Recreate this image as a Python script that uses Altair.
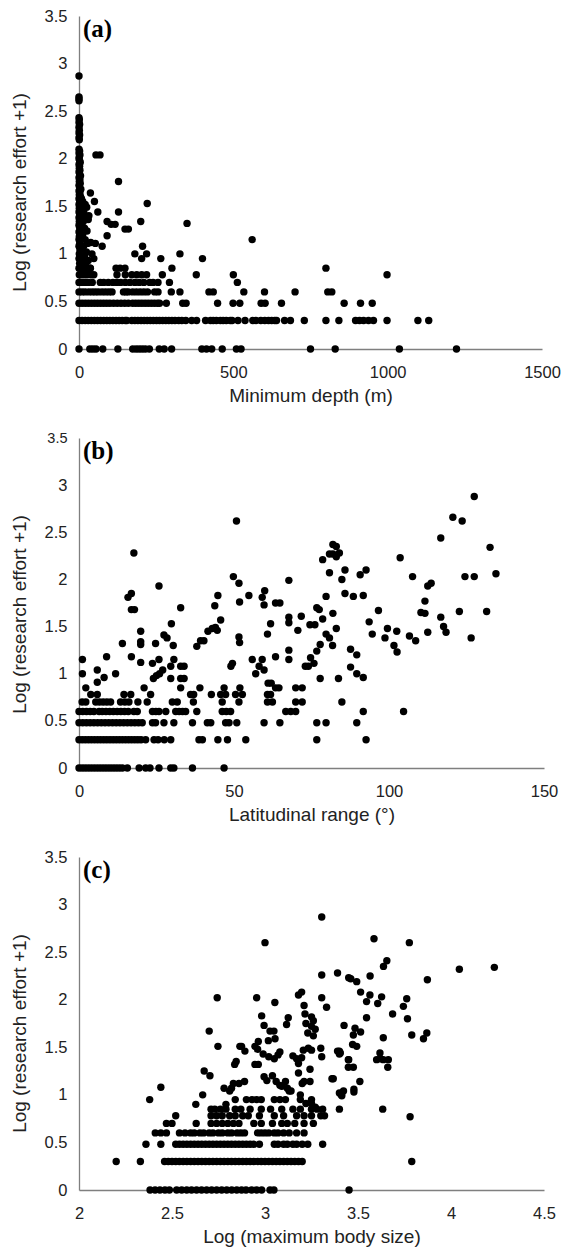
import altair as alt
import pandas as pd

Y_TITLE = "Log (research effort +1)"
Y_TICKS = [0, 0.5, 1, 1.5, 2, 2.5, 3, 3.5]

# ---------------- Panel (a): minimum depth (m) vs log research effort ----------------
a_x_ticks = [0, 500, 1000, 1500]
a_points = [
    # near-zero depth column
    (0, 2.87), (0, 2.65), (0, 2.63), (0, 2.61), (0, 2.43), (1, 2.41), (0, 2.38), (2, 2.36), (0, 2.33),
    (1, 2.30), (0, 2.27), (2, 2.25), (0, 2.22), (1, 2.20), (0, 2.10), (2, 2.08), (0, 2.06), (3, 2.04),
    (1, 2.02), (0, 2.00), (2, 1.98), (4, 1.96), (0, 1.94), (2, 1.92), (1, 1.90), (3, 1.88), (0, 1.86),
    (2, 1.84), (5, 1.82), (0, 1.80), (3, 1.78), (1, 1.76), (4, 1.74), (0, 1.72), (2, 1.70), (6, 1.68),
    (0, 1.66), (3, 1.64), (1, 1.62), (5, 1.60), (0, 1.58), (2, 1.56), (4, 1.54), (0, 1.52), (3, 1.50),
    (1, 1.48), (6, 1.46), (0, 1.44), (2, 1.42), (4, 1.40), (0, 1.38), (3, 1.36), (1, 1.34), (5, 1.32),
    (0, 1.30), (2, 1.28), (4, 1.26), (0, 1.23), (3, 1.20), (1, 1.18), (0, 1.15), (2, 1.11), (0, 1.08),
    (3, 1.04), (1, 1.00), (0, 0.95), (2, 0.90), (0, 0.85), (1, 0.78), (0, 0.70),
    (8, 1.58), (12, 1.55), (20, 1.52), (25, 1.49), (10, 1.46), (16, 1.43), (6, 1.40), (22, 1.38),
    (30, 1.36), (14, 1.34), (9, 1.30), (18, 1.27), (26, 1.24), (12, 1.20), (7, 1.17), (20, 1.15),
    (28, 1.11), (15, 1.08), (10, 1.05), (24, 1.02), (18, 0.98), (8, 0.95), (30, 0.93), (14, 0.90),
    (22, 0.88), (36, 0.85), (12, 0.82), (26, 0.80),
    # scattered
    (55, 2.04), (68, 2.04), (128, 1.76), (37, 1.64), (50, 1.55), (221, 1.53), (61, 1.44), (32, 1.40),
    (128, 1.44), (91, 1.34), (104, 1.31), (117, 1.31), (200, 1.34), (350, 1.32), (149, 1.26),
    (160, 1.26), (91, 1.19), (38, 1.12), (53, 1.11), (75, 1.08), (206, 1.08), (181, 1.00), (219, 1.00),
    (203, 0.95), (265, 0.95), (327, 1.00), (400, 0.95), (561, 1.15), (48, 0.95), (42, 1.00),
    # 0.845
    (5, 0.85), (15, 0.85), (25, 0.85), (37, 0.85), (120, 0.85), (133, 0.85), (149, 0.85), (301, 0.85),
    (800, 0.85),
    # 0.778
    (5, 0.78), (15, 0.78), (25, 0.78), (38, 0.78), (48, 0.78), (123, 0.78), (150, 0.78), (171, 0.78),
    (187, 0.78), (203, 0.78), (219, 0.78), (270, 0.78), (380, 0.78), (500, 0.78), (998, 0.78),
    # 0.699
    (10, 0.70), (20, 0.70), (30, 0.70), (43, 0.70), (69, 0.70), (80, 0.70), (95, 0.70), (110, 0.70),
    (123, 0.70), (135, 0.70), (150, 0.70), (165, 0.70), (181, 0.70), (195, 0.70), (210, 0.70),
    (229, 0.70), (240, 0.70), (256, 0.70), (293, 0.70), (513, 0.70),
    # 0.602
    (0, 0.60), (10, 0.60), (20, 0.60), (32, 0.60), (43, 0.60), (53, 0.60), (63, 0.60), (75, 0.60),
    (86, 0.60), (97, 0.60), (107, 0.60), (144, 0.60), (152, 0.60), (160, 0.60), (174, 0.60),
    (186, 0.60), (198, 0.60), (210, 0.60), (222, 0.60), (245, 0.60), (256, 0.60), (299, 0.60),
    (327, 0.60), (421, 0.60), (435, 0.60), (534, 0.60), (601, 0.60), (700, 0.60), (806, 0.60),
    (819, 0.60),
    # 0.477
    (0, 0.48), (10, 0.48), (20, 0.48), (30, 0.48), (40, 0.48), (50, 0.48), (60, 0.48), (70, 0.48),
    (80, 0.48), (90, 0.48), (100, 0.48), (112, 0.48), (124, 0.48), (136, 0.48), (148, 0.48),
    (160, 0.48), (174, 0.48), (184, 0.48), (194, 0.48), (204, 0.48), (214, 0.48), (224, 0.48),
    (234, 0.48), (244, 0.48), (254, 0.48), (261, 0.48), (283, 0.48), (336, 0.48), (347, 0.48),
    (449, 0.48), (499, 0.48), (521, 0.48), (590, 0.48), (603, 0.48), (656, 0.48), (859, 0.48),
    (912, 0.48), (950, 0.48),
    # 0.301
    (0, 0.30), (10, 0.30), (20, 0.30), (30, 0.30), (40, 0.30), (50, 0.30), (60, 0.30), (70, 0.30),
    (80, 0.30), (90, 0.30), (100, 0.30), (110, 0.30), (120, 0.30), (130, 0.30), (140, 0.30),
    (150, 0.30), (155, 0.30), (171, 0.30), (181, 0.30), (191, 0.30), (201, 0.30), (211, 0.30),
    (221, 0.30), (231, 0.30), (241, 0.30), (251, 0.30), (261, 0.30), (271, 0.30), (281, 0.30),
    (291, 0.30), (301, 0.30), (311, 0.30), (323, 0.30), (333, 0.30), (346, 0.30), (365, 0.30),
    (381, 0.30), (410, 0.30), (426, 0.30), (435, 0.30), (445, 0.30), (458, 0.30), (467, 0.30),
    (477, 0.30), (490, 0.30), (496, 0.30), (515, 0.30), (538, 0.30), (563, 0.30), (573, 0.30),
    (589, 0.30), (602, 0.30), (614, 0.30), (624, 0.30), (634, 0.30), (640, 0.30), (666, 0.30),
    (685, 0.30), (730, 0.30), (800, 0.30), (842, 0.30), (896, 0.30), (909, 0.30), (922, 0.30),
    (938, 0.30), (954, 0.30), (998, 0.30), (1098, 0.30), (1133, 0.30),
    # 0
    (0, 0), (35, 0), (45, 0), (55, 0), (77, 0), (126, 0), (174, 0), (185, 0), (195, 0), (205, 0),
    (215, 0), (228, 0), (260, 0), (276, 0), (300, 0), (398, 0), (413, 0), (430, 0), (464, 0),
    (510, 0), (525, 0), (750, 0), (830, 0), (1038, 0), (1223, 0),
]

# ---------------- Panel (b): latitudinal range (deg) ----------------
b_x_ticks = [0, 50, 100, 150]
b_points = [
    # 0
    (0, 0), (1, 0), (2, 0), (3, 0), (4, 0), (5, 0), (6, 0), (7, 0), (8, 0), (9, 0), (10, 0), (11, 0),
    (12, 0), (13, 0), (14, 0), (15.6, 0), (19.4, 0), (21.5, 0), (22.9, 0), (25.8, 0), (29.6, 0),
    (30.6, 0), (36.6, 0), (46.8, 0),
    # 0.301
    (0, 0.30), (1, 0.30), (2, 0.30), (3, 0.30), (4, 0.30), (5, 0.30), (6, 0.30), (7, 0.30), (8, 0.30),
    (9, 0.30), (10, 0.30), (11, 0.30), (12, 0.30), (13, 0.30), (14, 0.30), (15, 0.30), (16, 0.30),
    (17, 0.30), (18, 0.30), (19, 0.30), (20, 0.30), (21.5, 0.30), (24.2, 0.30), (25.5, 0.30),
    (27.5, 0.30), (29.6, 0.30), (38.7, 0.30), (39.8, 0.30), (44.8, 0.30), (47.9, 0.30), (53.8, 0.30),
    (76.7, 0.30), (92.6, 0.30),
    # 0.477
    (0, 0.48), (1.2, 0.48), (2.4, 0.48), (3.6, 0.48), (4.8, 0.48), (6, 0.48), (7.2, 0.48), (8.4, 0.48),
    (9.6, 0.48), (10.8, 0.48), (12, 0.48), (13.2, 0.48), (14.4, 0.48), (15.6, 0.48), (16.8, 0.48),
    (18, 0.48), (19.2, 0.48), (20.4, 0.48), (23.7, 0.48), (24.7, 0.48), (27.4, 0.48), (30.6, 0.48),
    (36.6, 0.48), (41.4, 0.48), (42.5, 0.48), (47.3, 0.48), (48.4, 0.48), (50.9, 0.48), (59.7, 0.48),
    (64.8, 0.48), (76.7, 0.48), (79.7, 0.48), (89.6, 0.48),
    # 0.602
    (0, 0.60), (1.2, 0.60), (2.4, 0.60), (3.6, 0.60), (4.8, 0.60), (6.5, 0.60), (7.5, 0.60),
    (8.7, 0.60), (9.9, 0.60), (11.1, 0.60), (12.3, 0.60), (13.5, 0.60), (14.7, 0.60), (15.9, 0.60),
    (17.7, 0.60), (18.8, 0.60), (23.7, 0.60), (24.8, 0.60), (25.8, 0.60), (28, 0.60), (31.2, 0.60),
    (32.3, 0.60), (33.4, 0.60), (34.4, 0.60), (38, 0.60), (46.2, 0.60), (47.5, 0.60), (48.9, 0.60),
    (66.7, 0.60), (68.3, 0.60), (69.9, 0.60), (91.7, 0.60), (104.7, 0.60),
    # 0.699
    (1, 0.70), (2.2, 0.70), (5.4, 0.70), (6.6, 0.70), (7.8, 0.70), (9, 0.70), (10.2, 0.70),
    (13.4, 0.70), (14.8, 0.70), (16.1, 0.70), (19, 0.70), (22, 0.70), (30.1, 0.70), (31.7, 0.70),
    (36.9, 0.70), (46.2, 0.70), (51.6, 0.70), (60.8, 0.70), (62.4, 0.70), (69.9, 0.70), (72, 0.70),
    (84.8, 0.70),
    # 0.778
    (3.8, 0.78), (5.9, 0.78), (14.5, 0.78), (16.7, 0.78), (23.1, 0.78), (36, 0.78), (37, 0.78),
    (42.7, 0.78), (45.7, 0.78), (47.3, 0.78), (50.5, 0.78), (52.7, 0.78), (60.8, 0.78), (61.8, 0.78),
    # 0.845
    (2.2, 0.85), (21, 0.85), (32.8, 0.85), (39, 0.85), (46.8, 0.85), (51.9, 0.85), (63.4, 0.85),
    (64.5, 0.85), (69.9, 0.85), (72, 0.85),
    # scattered
    (1.1, 1.15), (1.1, 1.00), (5.9, 1.04), (5.9, 0.91), (8.1, 0.96), (8.9, 1.18), (11.8, 1.00),
    (14, 1.32), (15.8, 1.81), (16.9, 1.85), (16.9, 1.68), (17.9, 1.68), (16.9, 1.18), (17.7, 2.28),
    (19.9, 1.45), (19.9, 1.31), (19.9, 1.34), (19.9, 1.12), (23.7, 1.11), (24.7, 1.32), (25.8, 1.93),
    (25.8, 1.15), (24, 0.95), (25, 0.98), (26, 1.00), (27, 1.04), (27.4, 1.41), (28.4, 1.38),
    (29.8, 1.53), (29.6, 1.08), (29.6, 0.95), (30.6, 1.15), (30.4, 1.30), (32.8, 1.70), (32.8, 1.08),
    (33.9, 1.08), (32.8, 0.95), (33.9, 0.95), (38, 1.29), (39.2, 1.35), (40.3, 1.35), (41.6, 1.45),
    (43, 1.48), (43.8, 1.72), (44.8, 1.83), (44, 1.49), (44.6, 1.46), (45.7, 1.57), (49, 1.08),
    (49.5, 1.11), (49.8, 2.03), (50.8, 2.62), (51.6, 1.96), (51.8, 1.76), (51.6, 1.39), (51.8, 1.33),
    (54.8, 1.83), (55.9, 1.15), (57, 1.00), (58.1, 1.08), (59.1, 1.15), (59.1, 1.81), (59.9, 1.88),
    (59.7, 1.73), (59.7, 1.04), (60.8, 1.42), (61.8, 1.53), (61, 0.90), (62, 0.90), (63.4, 1.18),
    (63.4, 1.75), (64.8, 1.75), (67.7, 1.99), (67.7, 1.60), (67.7, 1.54), (67.7, 1.25), (67.7, 1.15),
    (70.6, 1.46), (71.7, 1.61), (73, 1.08), (74, 1.08), (74.7, 1.17), (75.8, 1.11), (74.5, 1.52),
    (76.1, 1.52), (76.7, 1.70), (77.5, 1.68), (76.7, 1.24), (77.8, 1.31), (77.8, 0.95), (78.6, 1.58),
    (78.6, 2.21), (79.7, 1.82), (79.7, 1.42), (80.8, 1.38), (80.8, 2.07), (80.8, 2.27), (81.9, 2.37),
    (83, 2.35), (81.9, 2.27), (83, 2.24), (84, 2.28), (81.9, 1.64), (81.8, 1.30), (83, 1.48),
    (83.7, 0.95), (84.8, 2.00), (85.8, 2.10), (85.8, 1.85), (88.5, 1.82), (91.7, 1.83), (87.6, 1.26),
    (89.6, 1.20), (87.6, 1.07), (89.6, 1.00), (91.7, 0.96), (90.7, 2.05), (92.6, 2.10), (93.6, 1.55),
    (94.6, 1.42), (96.6, 1.67), (98.7, 1.38), (99.5, 1.48), (101.6, 1.30), (102.6, 1.23),
    (102.5, 1.45), (103.6, 2.23), (106.6, 1.40), (108.6, 1.35), (107.6, 2.03), (110.3, 1.65),
    (111.6, 1.64), (111.6, 1.77), (112.5, 1.93), (113.6, 1.96), (112.5, 1.44), (116.7, 1.60),
    (117.6, 1.50), (118.4, 1.44), (116.7, 2.44), (120.6, 2.66), (122.7, 1.66), (123.6, 2.62),
    (124.5, 2.03), (127.5, 2.03), (126.5, 1.38), (127.5, 2.88), (131.5, 1.66), (132.6, 2.34),
    (134.5, 2.06),
]

# ---------------- Panel (c): log maximum body size ----------------
c_x_ticks = [2, 2.5, 3, 3.5, 4, 4.5]
c_points = [
    # 0
    (2.382, 0), (2.409, 0), (2.435, 0), (2.462, 0), (2.486, 0), (2.525, 0), (2.552, 0), (2.579, 0),
    (2.605, 0), (2.632, 0), (2.659, 0), (2.686, 0), (2.713, 0), (2.740, 0), (2.767, 0), (2.794, 0),
    (2.821, 0), (2.848, 0), (2.874, 0), (2.898, 0), (2.928, 0), (2.955, 0), (2.982, 0), (3.027, 0),
    (3.048, 0), (3.452, 0),
    # 0.301
    (2.20, 0.30), (2.33, 0.30), (2.46, 0.30), (2.48, 0.30), (2.50, 0.30), (2.52, 0.30), (2.54, 0.30),
    (2.56, 0.30), (2.58, 0.30), (2.60, 0.30), (2.62, 0.30), (2.64, 0.30), (2.66, 0.30), (2.68, 0.30),
    (2.70, 0.30), (2.72, 0.30), (2.74, 0.30), (2.76, 0.30), (2.78, 0.30), (2.80, 0.30), (2.82, 0.30),
    (2.84, 0.30), (2.86, 0.30), (2.88, 0.30), (2.90, 0.30), (2.92, 0.30), (2.94, 0.30), (2.96, 0.30),
    (2.98, 0.30), (3.00, 0.30), (3.02, 0.30), (3.04, 0.30), (3.06, 0.30), (3.08, 0.30), (3.10, 0.30),
    (3.12, 0.30), (3.14, 0.30), (3.16, 0.30), (3.18, 0.30), (3.20, 0.30), (3.789, 0.30),
    # 0.477
    (2.36, 0.48), (2.44, 0.48), (2.52, 0.48), (2.54, 0.48), (2.56, 0.48), (2.58, 0.48), (2.60, 0.48),
    (2.62, 0.48), (2.64, 0.48), (2.66, 0.48), (2.68, 0.48), (2.70, 0.48), (2.72, 0.48), (2.74, 0.48),
    (2.76, 0.48), (2.78, 0.48), (2.80, 0.48), (2.82, 0.48), (2.84, 0.48), (2.86, 0.48), (2.88, 0.48),
    (2.90, 0.48), (2.92, 0.48), (2.94, 0.48), (2.97, 0.48), (3.05, 0.48), (3.07, 0.48), (3.10, 0.48),
    (3.12, 0.48), (3.15, 0.48), (3.17, 0.48), (3.20, 0.48), (3.23, 0.48), (3.31, 0.48),
    # 0.602
    (2.41, 0.60), (2.44, 0.60), (2.47, 0.60), (2.54, 0.60), (2.57, 0.60), (2.60, 0.60), (2.62, 0.60),
    (2.65, 0.60), (2.67, 0.60), (2.70, 0.60), (2.72, 0.60), (2.75, 0.60), (2.77, 0.60), (2.80, 0.60),
    (2.82, 0.60), (2.85, 0.60), (2.87, 0.60), (2.89, 0.60), (2.96, 0.60), (2.98, 0.60), (3.00, 0.60),
    (3.02, 0.60), (3.05, 0.60), (3.07, 0.60), (3.10, 0.60), (3.13, 0.60), (3.17, 0.60), (3.21, 0.60),
    # 0.699
    (2.47, 0.70), (2.50, 0.70), (2.63, 0.70), (2.71, 0.70), (2.74, 0.70), (2.77, 0.70), (2.80, 0.70),
    (2.83, 0.70), (2.86, 0.70), (2.94, 0.70), (2.98, 0.70), (3.04, 0.70), (3.09, 0.70), (3.12, 0.70),
    (3.16, 0.70), (3.21, 0.70), (3.26, 0.70),
    # 0.778
    (2.52, 0.78), (2.71, 0.78), (2.74, 0.78), (2.77, 0.78), (2.81, 0.78), (2.84, 0.78), (2.88, 0.78),
    (2.91, 0.78), (2.97, 0.78), (3.05, 0.78), (3.10, 0.78), (3.17, 0.78), (3.21, 0.78), (3.25, 0.78),
    (3.30, 0.78), (3.32, 0.78),
    # 0.845
    (2.71, 0.85), (2.73, 0.85), (2.76, 0.85), (2.79, 0.85), (2.84, 0.85), (2.87, 0.85), (2.92, 0.85),
    (2.98, 0.85), (3.03, 0.85), (3.09, 0.85), (3.15, 0.85), (3.19, 0.85), (3.25, 0.85), (3.28, 0.85),
    (3.31, 0.85),
    # 0.90 / 0.95
    (2.628, 0.90), (2.79, 0.90), (3.22, 0.91), (3.25, 0.91), (3.27, 0.87),
    (2.84, 0.95), (2.90, 0.95), (2.93, 0.95), (2.955, 0.95), (2.98, 0.95), (3.05, 0.95), (3.08, 0.95),
    (3.11, 0.95), (3.19, 0.95), (3.25, 0.95),
    # scattered
    (3.305, 2.87), (3.0, 2.60), (2.743, 2.02), (2.955, 2.02), (3.053, 1.97), (3.18, 2.05),
    (3.197, 2.08), (3.305, 2.26), (3.39, 2.28), (3.45, 2.23), (3.305, 2.02), (3.331, 1.92),
    (3.21, 1.94), (3.215, 1.85), (3.25, 1.82), (3.26, 1.78), (3.22, 1.75), (3.25, 1.72), (3.27, 1.69),
    (3.23, 1.65), (3.26, 1.62), (3.125, 1.81), (3.116, 1.74), (2.982, 1.83), (2.995, 1.73),
    (3.027, 1.67), (3.048, 1.67), (2.70, 1.67), (2.747, 1.51), (3.018, 1.57), (3.054, 1.59),
    (2.964, 1.56), (2.946, 1.51), (2.874, 1.51), (2.892, 1.46), (2.96, 1.48), (2.99, 1.43),
    (3.02, 1.40), (3.05, 1.38), (3.07, 1.42), (3.08, 1.45), (2.946, 1.32), (2.964, 1.32),
    (3.15, 1.41), (3.17, 1.38), (3.197, 1.39), (3.206, 1.47), (3.233, 1.49), (3.25, 1.47),
    (3.18, 1.33), (3.18, 1.23), (3.242, 1.27), (3.242, 1.14), (3.30, 1.49), (3.305, 1.40),
    (3.40, 1.46), (3.40, 1.43), (3.45, 1.37), (3.36, 1.17), (3.40, 1.02), (3.41, 1.00), (3.40, 0.85),
    (2.673, 1.25), (2.704, 1.20), (2.837, 1.32), (2.845, 1.35), (2.865, 1.51), (2.82, 1.07),
    (2.81, 1.04), (2.83, 1.12), (2.86, 1.12), (2.89, 1.14), (2.78, 1.07), (2.665, 1.00),
    (2.995, 1.19), (3.01, 1.15), (3.04, 1.20), (3.06, 1.14), (3.08, 1.10), (3.11, 1.14), (3.12, 1.07),
    (3.14, 1.04), (3.09, 1.09), (3.13, 1.04), (3.19, 1.00), (3.20, 1.12), (3.21, 1.14), (2.38, 0.95),
    (2.44, 1.08),
    (3.586, 2.64), (3.776, 2.60), (3.655, 2.41), (3.637, 2.35), (3.461, 2.22), (3.493, 2.19),
    (3.565, 2.25), (3.514, 2.08), (3.564, 2.05), (3.546, 1.98), (3.606, 1.96), (3.627, 2.03),
    (3.762, 2.01), (3.744, 1.93), (3.766, 1.80), (3.546, 1.81), (3.686, 1.85), (4.045, 2.32),
    (4.233, 2.34), (3.873, 2.21), (3.425, 1.73), (3.484, 1.70), (3.475, 1.63), (3.514, 1.66),
    (3.636, 1.60), (3.789, 1.63), (3.852, 1.59), (3.87, 1.65), (3.471, 1.53), (3.493, 1.51),
    (3.39, 1.46), (3.405, 1.44), (3.618, 1.44), (3.62, 1.38), (3.60, 1.37), (3.636, 1.37),
    (3.663, 1.37), (3.66, 1.29), (3.448, 1.37), (3.448, 1.29), (3.475, 1.29), (3.367, 1.17),
    (3.51, 1.14), (3.422, 1.04), (3.413, 0.99), (3.478, 1.06), (3.478, 1.03), (3.633, 0.85),
    (3.78, 0.77),
]

FONT = "Liberation Sans"
LABEL_SIZE = 16.5


def panel(points, xdom, xticks, xtitle, label, w, h, top_label_size=LABEL_SIZE):
    df = pd.DataFrame(points, columns=["x", "y"])
    y_label_size = alt.condition("datum.value == 3.5", alt.value(top_label_size), alt.value(LABEL_SIZE))
    pts = alt.Chart(df).mark_circle(size=55, color="black", opacity=1).encode(
        x=alt.X("x:Q", scale=alt.Scale(domain=xdom, nice=False, zero=False),
                axis=alt.Axis(values=xticks, title=xtitle, format="~r")),
        y=alt.Y("y:Q", scale=alt.Scale(domain=[0, 3.5], nice=False),
                axis=alt.Axis(values=Y_TICKS, title=Y_TITLE, format="~r", titleY=176,
                              labelFontSize=y_label_size)),
    )
    lab = alt.Chart(pd.DataFrame({"t": [label]})).mark_text(
        font="Liberation Serif", fontWeight="bold", fontSize=25, align="left",
        baseline="alphabetic", color="black"
    ).encode(x=alt.value(4), y=alt.value(21), text="t:N")
    return alt.layer(pts, lab).properties(width=w, height=h)


pa = panel(a_points, [0, 1500], a_x_ticks, "Minimum depth (m)", "(a)", 463, 333)
pb = panel(b_points, [0, 150], b_x_ticks, "Latitudinal range (°)", "(b)", 465, 330, top_label_size=14.5)
pc = panel(c_points, [2, 4.5], c_x_ticks, "Log (maximum body size)", "(c)", 465, 333)

chart = alt.vconcat(pa, pb, pc, spacing=24).properties(
    padding={"left": 2, "top": 0, "right": 0, "bottom": 0}
).configure_view(stroke=None).configure_axis(
    grid=False, ticks=False, tickSize=0, domainColor="#7f7f7f", domainWidth=1.3,
    labelFont=FONT, labelFontSize=LABEL_SIZE, labelColor="#222222", labelFlush=False, labelOverlap=False,
    titleFont=FONT, titleFontSize=19, titleFontWeight="normal", titleColor="#222222",
).configure_axisX(labelPadding=15, titlePadding=6).configure_axisY(labelPadding=12, titlePadding=15)

chart.save("out.html", embed_options={"renderer": "svg", "actions": False})
